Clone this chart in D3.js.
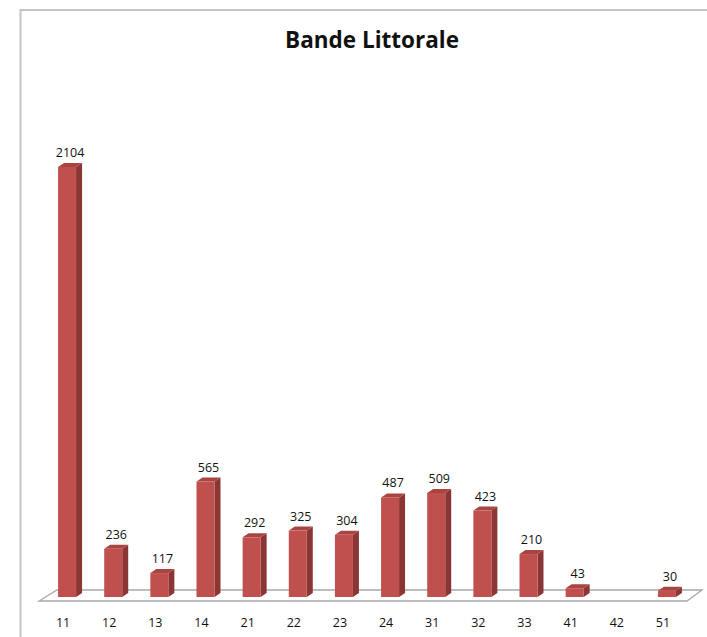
<!DOCTYPE html>
<html lang="en">
<head>
	<meta charset="utf-8">
	<title>Bande Littorale</title>
	<script src="https://d3js.org/d3.v7.min.js"></script>
	<style type="text/css">
		body { margin: 0; background: #fff; }
		text { font-family: "Open Sans", "Liberation Sans", sans-serif; }
	</style>
</head>
<body>
	<div id="chart"></div>

<script type="text/javascript">
	var w = 707;
	var h = 637;

	// data
	var categories = ["11", "12", "13", "14", "21", "22", "23", "24", "31", "32", "33", "41", "42", "51"];
	var values = [2104, 236, 117, 565, 292, 325, 304, 487, 509, 423, 210, 43, null, 30];
	var title = "Bande Littorale";

	var dataset = categories.map(function(c, i) {
		return { cat: c, val: values[i] };
	});

	var floorY = 601;   // front edge of the floor
	var baseY = 597;    // front bottom of bars
	var depthX = 6, depthY = 4;   // bar 3d depth
	var barW = 18;

	var svg = d3.select("#chart")
		.append("svg")
		.attr("width", w)
		.attr("height", h);

	// frame (only top and left visible)
	svg.append("path")
		.attr("d", "M20.5,637 L20.5,10 L707,10")
		.attr("fill", "none")
		.attr("stroke", "#c4c4c4")
		.attr("stroke-width", 2);

	svg.append("text")
		.attr("x", 372)
		.attr("y", 48)
		.attr("text-anchor", "middle")
		.attr("font-size", "22.5px")
		.attr("font-weight", "bold")
		.attr("fill", "#111")
		.text(title);

	var x = d3.scaleBand()
		.domain(categories)
		.range([40, 686]);

	var y = d3.scaleLinear()
		.domain([0, 2500])
		.range([baseY, baseY - 511]);

	// floor
	svg.append("path")
		.attr("d", "M39," + floorY + " L687," + floorY + " L702,590 L57,590 Z")
		.attr("fill", "#fff")
		.attr("stroke", "#a8a8a8")
		.attr("stroke-width", 1.3);

	var bars = svg.selectAll("g.bar")
		.data(dataset.filter(function(d) { return d.val != null; }))
		.enter()
		.append("g")
		.attr("class", "bar");

	function x0(d) { return x(d.cat) + x.bandwidth() / 2 + 4 - barW / 2; }

	// side face
	bars.append("path")
		.attr("d", function(d) {
			var a = x0(d) + barW, t = y(d.val);
			return "M" + a + "," + t + " L" + (a + depthX) + "," + (t - depthY) +
				" L" + (a + depthX) + "," + (baseY - depthY) + " L" + a + "," + baseY + " Z";
		})
		.attr("fill", "#8b3634");

	// top face
	bars.append("path")
		.attr("d", function(d) {
			var a = x0(d), t = y(d.val);
			return "M" + a + "," + t + " L" + (a + barW) + "," + t +
				" L" + (a + barW + depthX) + "," + (t - depthY) + " L" + (a + depthX) + "," + (t - depthY) + " Z";
		})
		.attr("fill", "#a84442");

	// front face
	bars.append("rect")
		.attr("x", x0)
		.attr("y", function(d) { return y(d.val); })
		.attr("width", barW)
		.attr("height", function(d) { return baseY - y(d.val); })
		.attr("fill", "#c0504d");

	// value labels
	bars.append("text")
		.attr("x", function(d) { return x0(d) + (barW + depthX) / 2; })
		.attr("y", function(d) { return y(d.val) - 10; })
		.attr("text-anchor", "middle")
		.attr("font-size", "12.5px")
		.attr("fill", "#111")
		.text(function(d) { return d.val; });

	// category labels
	svg.selectAll("text.cat")
		.data(categories)
		.enter()
		.append("text")
		.attr("class", "cat")
		.attr("x", function(d) { return x(d) + x.bandwidth() / 2; })
		.attr("y", 627)
		.attr("text-anchor", "middle")
		.attr("font-size", "12.5px")
		.attr("fill", "#111")
		.text(function(d) { return d; });
</script>
</body>
</html>
